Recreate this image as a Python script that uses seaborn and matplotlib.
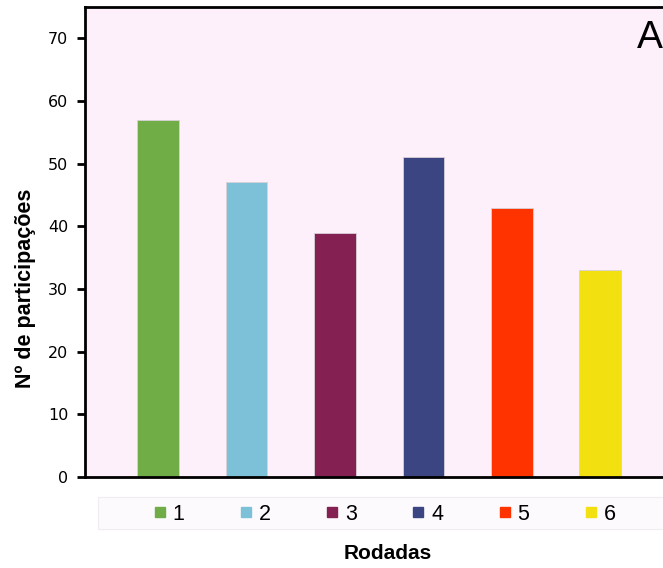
import matplotlib
matplotlib.use('Agg')
import matplotlib.pyplot as plt
import seaborn as sns
import pandas as pd
from matplotlib.lines import Line2D
from matplotlib.patches import Rectangle

rodadas = ['1', '2', '3', '4', '5', '6']
participacoes = [57, 47, 39, 51, 43, 33]
cores = ['#70AD47', '#7DC1D8', '#852052', '#3B4582', '#FF3300', '#F2E011']

df = pd.DataFrame({'Rodadas': rodadas, 'Participacoes': participacoes})

sns.set_style('ticks')
plt.rcParams['font.family'] = ['Liberation Sans', 'DejaVu Sans']
plt.rcParams['text.color'] = 'black'
plt.rcParams['ytick.labelcolor'] = 'black'

fig = plt.figure(figsize=(6.63, 5.68), dpi=100)

# fundo da legenda
fig.patches.append(Rectangle((98 / 663, 39 / 568), 1, 32 / 568,
                             transform=fig.transFigure, facecolor='#FDFAFD',
                             edgecolor='#F1ECF1', linewidth=0.8, zorder=0))

ax = fig.add_axes([85 / 663, 91 / 568, 1 - 85 / 663, 470 / 568])
ax.set_facecolor('#FDF0FA')

sns.barplot(data=df, x='Rodadas', y='Participacoes', hue='Rodadas',
            palette=cores, saturation=1, width=0.47, legend=False, ax=ax,
            edgecolor='#d8d0d8', linewidth=0.6)

ax.set_ylim(0, 75)
ax.set_xlim(-0.825, 5.71)
ax.set_yticks(range(0, 80, 10))
ax.set_xticks([])
ax.set_xlabel('')
ax.set_ylabel('')
ax.tick_params(axis='y', labelsize=11.5, width=2, length=6, color='black', pad=6)
for lbl in ax.get_yticklabels():
    lbl.set_family('DejaVu Sans')
for s in ['left', 'bottom', 'top']:
    ax.spines[s].set_linewidth(2)
    ax.spines[s].set_color('black')
ax.spines['right'].set_visible(False)

handles = [Line2D([0], [0], marker='s', linestyle='none', markersize=7.2,
                  markerfacecolor=c, markeredgecolor=c) for c in cores]
leg = fig.legend(handles, rodadas, loc='center', bbox_to_anchor=(0.58, 0.095),
                 ncol=6, fontsize=15.5, handlelength=0.6, handletextpad=0.3,
                 columnspacing=2.55, frameon=False)

fig.text(0.585, 0.026, 'Rodadas', ha='center', va='center',
         fontsize=15, fontweight='bold')
fig.text(0.038, 0.493, 'Nº de participações', ha='center', va='center',
         rotation=90, fontsize=15.5, fontweight='bold')
fig.text(0.961, 0.933, 'A', ha='left', va='center', fontsize=28)

fig.savefig('out.png', dpi=100)
